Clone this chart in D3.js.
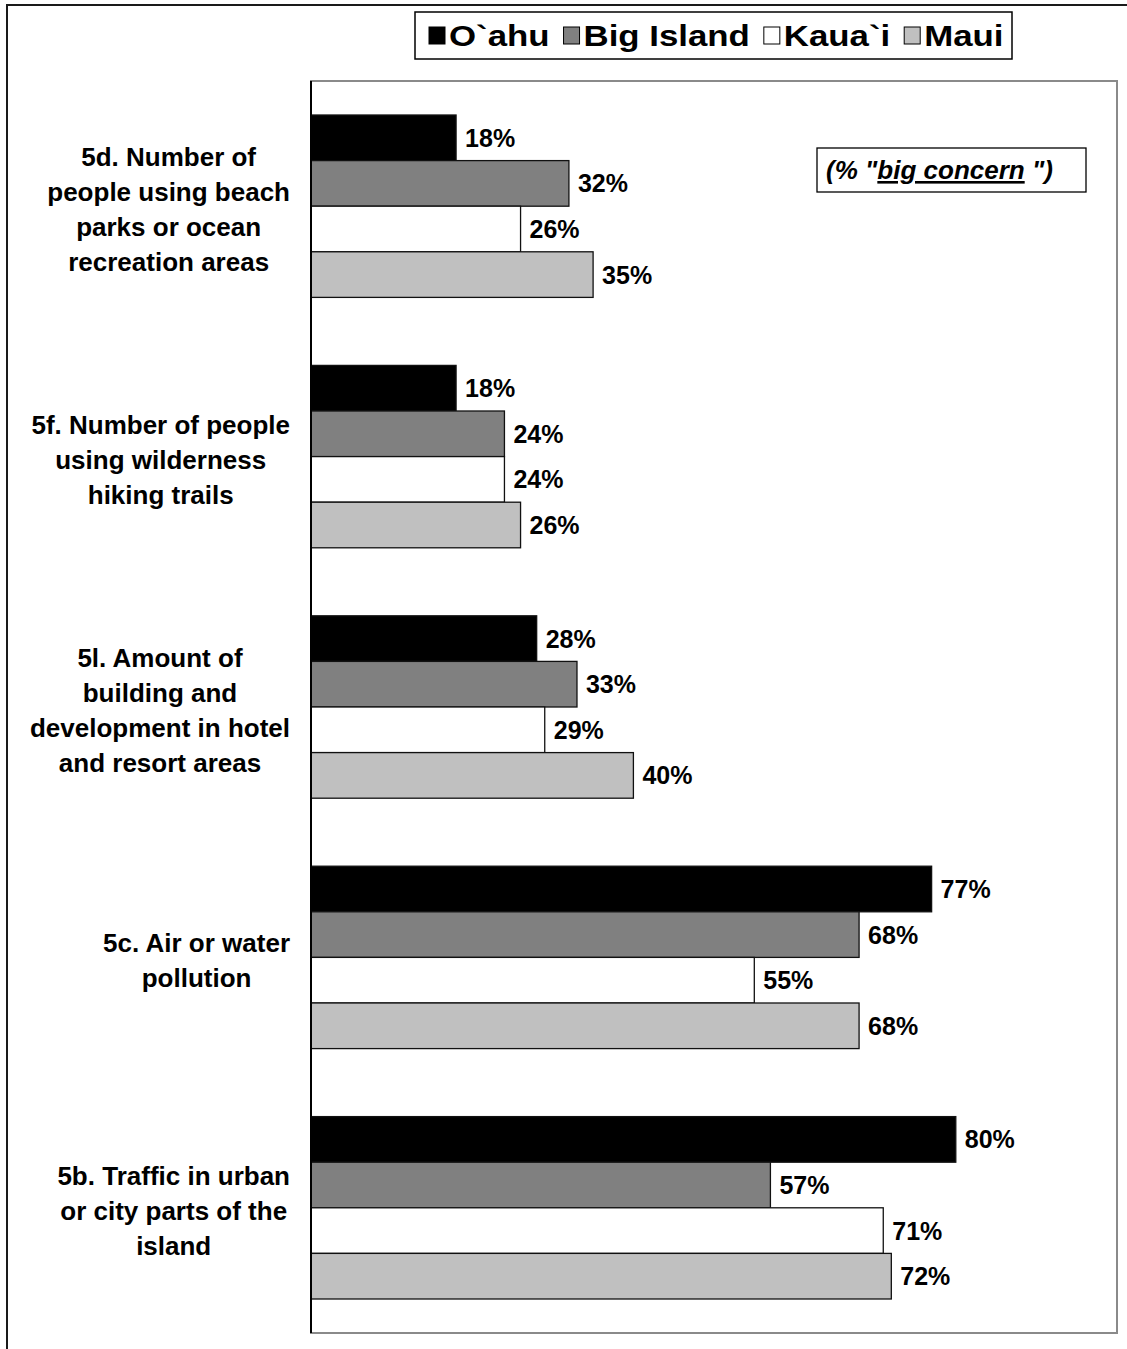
<!DOCTYPE html>
<html>
<head>
<meta charset="utf-8">
<script src="https://cdn.jsdelivr.net/npm/d3@7/dist/d3.min.js"></script>
<style>
  html, body { margin: 0; padding: 0; background: #fff; }
  svg { display: block; font-family: "Liberation Sans", Arial, sans-serif; }
</style>
</head>
<body>
<svg id="chart" width="1127" height="1349"></svg>
<script>
// Survey items (top to bottom), each label wrapped as in the printed report
const categories = ["5d", "5f", "5l", "5c", "5b"];
const categoryLines = [
  ["5d. Number of", "people using beach", "parks or ocean", "recreation areas"],
  ["5f. Number of people", "using wilderness", "hiking trails"],
  ["5l. Amount of", "building and", "development in hotel", "and resort areas"],
  ["5c. Air or water", "pollution"],
  ["5b. Traffic in urban", "or city parts of the", "island"]
];

// Island series (% "big concern")
const seriesNames = ["O`ahu", "Big Island", "Kaua`i", "Maui"];
const oahu      = [18, 18, 28, 77, 80];
const bigIsland = [32, 24, 33, 68, 57];
const kauai     = [26, 24, 29, 55, 71];
const maui      = [35, 26, 40, 68, 72];
const seriesValues = [oahu, bigIsland, kauai, maui];
const seriesColors = ["#000000", "#808080", "#ffffff", "#c0c0c0"];

const svg = d3.select("#chart");

// Outer frame
svg.append("path")
  .attr("d", "M7,1349 V5 H1127")
  .attr("fill", "none").attr("stroke", "#1a1a1a").attr("stroke-width", 2);

// Plot area
const plot = { left: 311, top: 81, right: 1117, bottom: 1333 };

const x = d3.scaleLinear().domain([0, 100]).range([plot.left, plot.right]);
const y = d3.scaleBand().domain(categories).range([plot.top, plot.bottom])
  .paddingInner(0.2716).paddingOuter(0.1358);
const ySub = d3.scaleBand().domain(seriesNames).range([0, y.bandwidth()]);

// Plot border (gray top/right/bottom)
svg.append("rect")
  .attr("x", plot.left).attr("y", plot.top)
  .attr("width", plot.right - plot.left).attr("height", plot.bottom - plot.top)
  .attr("fill", "#fff").attr("stroke", "#8a8a8a").attr("stroke-width", 2);

// Bars
const rows = [];
categories.forEach((c, i) => {
  seriesNames.forEach((s, j) => rows.push({ cat: c, series: s, j, value: seriesValues[j][i] }));
});

const g = svg.append("g");
g.selectAll("rect.bar").data(rows).join("rect")
  .attr("class", "bar")
  .attr("x", x(0))
  .attr("y", d => y(d.cat) + ySub(d.series))
  .attr("width", d => x(d.value) - x(0))
  .attr("height", ySub.bandwidth())
  .attr("fill", d => seriesColors[d.j])
  .attr("stroke", "#111").attr("stroke-width", 1.3);

// Value labels
g.selectAll("text.val").data(rows).join("text")
  .attr("class", "val")
  .attr("x", d => x(d.value) + 9)
  .attr("y", d => y(d.cat) + ySub(d.series) + ySub.bandwidth() / 2)
  .attr("dy", "0.36em")
  .attr("font-size", 25).attr("font-weight", "bold").attr("fill", "#000")
  .text(d => d.value + "%");

// Category axis line
svg.append("line")
  .attr("x1", plot.left).attr("x2", plot.left)
  .attr("y1", plot.top).attr("y2", plot.bottom)
  .attr("stroke", "#000").attr("stroke-width", 2);

// Category labels: wrapped block right-aligned to the axis, lines centred
const lineH = 35;
categories.forEach((c, i) => {
  const lines = categoryLines[i];
  const grp = svg.append("g");
  const texts = lines.map((t, k) => grp.append("text")
    .attr("font-size", 26).attr("font-weight", "bold").attr("fill", "#000")
    .attr("text-anchor", "middle")
    .attr("y", y(c) + y.bandwidth() / 2 + (k - (lines.length - 1) / 2) * lineH + 3)
    .attr("dy", "0.36em")
    .text(t));
  const maxW = d3.max(texts, t => t.node().getComputedTextLength());
  const cx = 290 - maxW / 2;
  texts.forEach(t => t.attr("x", cx));
});

// Legend: swatch + label, laid out left to right inside a framed box
const legend = svg.append("g");
legend.append("rect")
  .attr("x", 415).attr("y", 12).attr("width", 597).attr("height", 47)
  .attr("fill", "#fff").attr("stroke", "#000").attr("stroke-width", 1.5);
let lx = 429;
seriesNames.forEach((s, j) => {
  legend.append("rect")
    .attr("x", lx).attr("y", 27).attr("width", 16).attr("height", 17)
    .attr("fill", seriesColors[j]).attr("stroke", "#000").attr("stroke-width", 1);
  const t = legend.append("text")
    .attr("x", lx + 20).attr("y", 46)
    .attr("font-size", 29).attr("font-weight", "bold").attr("fill", "#000")
    .text(s);
  const w = t.node().getComputedTextLength() * 1.2;
  t.attr("textLength", w).attr("lengthAdjust", "spacingAndGlyphs");
  lx += 20 + w + 14;
});

// Note box
const note = svg.append("g");
note.append("rect")
  .attr("x", 817).attr("y", 148).attr("width", 269).attr("height", 44)
  .attr("fill", "#fff").attr("stroke", "#000").attr("stroke-width", 1.3);
const noteText = note.append("text")
  .attr("x", 826).attr("y", 179)
  .attr("font-size", 26).attr("font-weight", "bold").attr("font-style", "italic")
  .attr("fill", "#000");
noteText.append("tspan").text("(% \"");
noteText.append("tspan").attr("text-decoration", "underline").text("big concern");
noteText.append("tspan").text(" \")");
</script>
</body>
</html>
